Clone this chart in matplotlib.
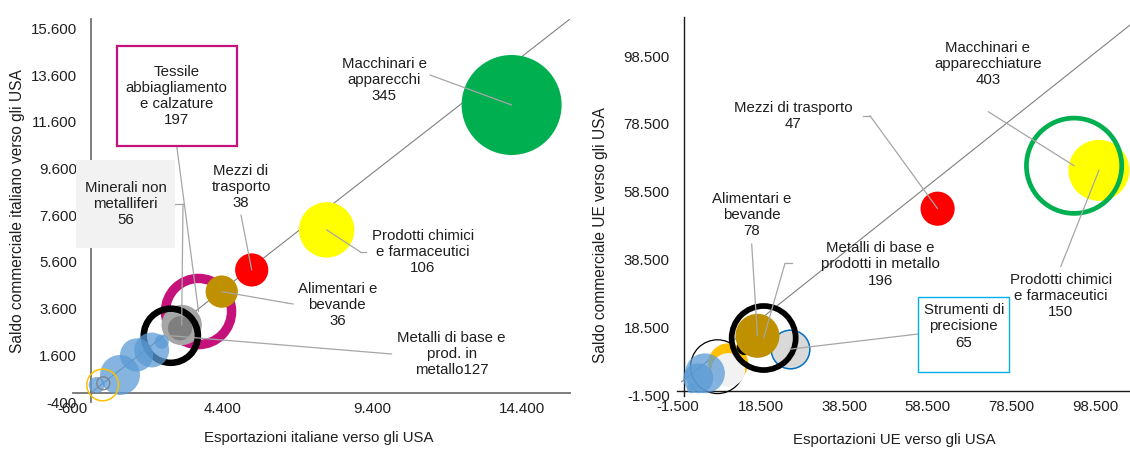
import numpy as np
import matplotlib
matplotlib.use("Agg")
from matplotlib import pyplot as plt
from matplotlib.patches import Rectangle
from matplotlib.ticker import FixedLocator, FuncFormatter

plt.rcParams['font.family'] = ['Liberation Sans', 'DejaVu Sans']

TEXT = '#1f1f1f'
LEADER = '#A6A6A6'
FONT = 10.8
R_MAX = 36.0   # raggio in pt della bolla più grande di ciascun grafico
BLU = (0.357, 0.608, 0.835, 0.75)

# ---------------- Italia verso gli USA ----------------
IT_SETTORI = ["Tessile, abbigliamento e calzature", "Alimentari e bevande",
              "Mezzi di trasporto", "Prodotti chimici e farmaceutici",
              "Macchinari e apparecchi", "Minerali non metalliferi", "Altri 1",
              "Metalli di base e prodotti in metallo", "Altri 2", "Altri 3",
              "Altri 4", "Altri 5", "Altri 6", "Altri 7", "Altri 8"]
IT_ETICHETTE = ["Tessile\nabbiagliamento\ne calzature\n", "Alimentari e\nbevande\n",
                "Mezzi di\ntrasporto\n", "Prodotti chimici\ne farmaceutici\n",
                "Macchinari e\napparecchi\n", "Minerali non\nmetalliferi\n", None,
                "Metalli di base e\nprod. in\nmetallo", None, None,
                None, None, None, None, None]
IT_EXPORT = [3592, 4367, 5369, 7873, 14050, 3030, 2974, 2667,
             2362, 2028, 1526, 970, 191, 391, 411]
IT_SALDO = [3475, 4326, 5255, 6968, 12318, 2898, 2757, 2437,
            2183, 1827, 1613, 757, 328, 330, 401]
IT_PESO = [197, 36, 38, 106, 345, 56, 20, 127, 7, 42, 38, 55, 9, 38, 7]
IT_X_TICKS = [-600, 4400, 9400, 14400]
IT_Y_TICKS = [-400, 1600, 3600, 5600, 7600, 9600, 11600, 13600, 15600]
IT_DIAG_X = [0, 16600]
IT_DIAG_Y = [0, 16600]

# stile bolle: (riempimento, bordo, spessore bordo pt)
IT_STILE = [('none', '#C5127A', 6.8), ('#BF9000', 'none', 0), ('#FF0000', 'none', 0),
            ('#FFFF00', 'none', 0), ('#00B050', 'none', 0), ('#A6A6A6', 'none', 0),
            ('#7F7F7F', 'none', 0), ('none', '#000000', 4.7),
            (BLU, 'none', 0), (BLU, 'none', 0), (BLU, 'none', 0), (BLU, 'none', 0),
            (BLU, 'none', 0), ('none', '#FFC000', 1.1), ('none', '#7F7F7F', 0.9)]

# ---------------- UE verso gli USA ----------------
UE_SETTORI = ["Altri 1", "Altri 2", "Altri 3", "Altri 4", "Altri 5", "Altri 6",
              "Altri 7", "Strumenti di precisione", "Alimentari e bevande",
              "Metalli di base e prodotti in metallo", "Mezzi di trasporto",
              "Prodotti chimici e farmaceutici", "Macchinari e apparecchiature"]
UE_ETICHETTE = [None, None, None, None, None, None, None,
                "Strumenti di\nprecisione\n", "Alimentari e\nbevande\n",
                "Metalli di base e\nprodotti in metallo\n", "Mezzi di trasporto\n",
                "Prodotti chimici\ne farmaceutici\n", "Macchinari e\napparecchiature\n"]
UE_EXPORT = [8120, 10700, 10700, 5120, 3520, 1940, 14510, 25470, 17690,
             19180, 60830, 99460, 93510]
UE_SALDO = [7040, 8040, 6065, 5090, 3620, 680, 12690, 12190, 16130,
            15480, 53550, 64850, 66200]
UE_PESO = [122, 64, 46, 64, 36, 4, 9, 65, 78, 196, 47, 150, 403]
UE_X_TICKS = [-1500, 18500, 38500, 58500, 78500, 98500]
UE_Y_TICKS = [-1500, 18500, 38500, 58500, 78500, 98500]
UE_DIAG_X = [-450, 108000]
UE_DIAG_Y = [2620, 108700]

UE_STILE = [('none', '#000000', 0.9), ('#FFC000', 'none', 0), ('#F2F2F2', 'none', 0),
            (BLU, 'none', 0), (BLU, 'none', 0), (BLU, 'none', 0),
            ('#000000', 'none', 0), ('#D9D9D9', '#0070C0', 1.1), ('#BF9000', 'none', 0),
            ('none', '#000000', 4.1), ('#FF0000', 'none', 0), ('#FFFF00', 'none', 0),
            ('none', '#00B050', 3.4)]

# posizione etichette (frazioni degli assi): testo, inizio linea guida, gomito, riquadro
IT_LAYOUT = {
    0: dict(text=(0.2087, 0.7990), start=(0.2087, 0.6684),
            box=(0.0879, 0.6684, 0.2414, 0.2619, 'white', '#C5127A', 1.6)),
    1: dict(text=(0.5318, 0.2533), start=(0.4427, 0.2559), elbow=(0.4306, 0.2585)),
    2: dict(text=(0.3380, 0.5614), start=(0.3380, 0.4883)),
    3: dict(text=(0.7036, 0.3916), start=(0.5895, 0.3924), elbow=(0.5775, 0.3924)),
    4: dict(text=(0.6258, 0.8407), start=(0.7183, 0.8538)),
    5: dict(text=(0.1056, 0.5170), start=(0.2052, 0.5170), elbow=(0.2213, 0.5170),
            box=(0.0060, 0.4021, 0.1992, 0.2298, '#F2F2F2', 'none', 0)),
    7: dict(text=(0.7620, 0.1253), start=(0.6412, 0.1253)),
}
UE_LAYOUT = {
    7: dict(text=(0.6329, 0.1829), start=(0.5324, 0.1631),
            box=(0.5324, 0.0618, 0.2010, 0.1998, 'white', '#00B0F0', 1.0)),
    8: dict(text=(0.1643, 0.4775), start=(0.1643, 0.4009)),
    9: dict(text=(0.4478, 0.3472), start=(0.2527, 0.3499), elbow=(0.2379, 0.3499)),
    10: dict(text=(0.2562, 0.7392), start=(0.4108, 0.7400), elbow=(0.4256, 0.7400)),
    11: dict(text=(0.8469, 0.2627), start=(0.8469, 0.3409)),
    12: dict(text=(0.6857, 0.8771), start=(0.6870, 0.7505)),
}


def thousands(v, pos=None):
    return f"{v:,.0f}".replace(",", ".")


def draw_chart(ax, xs, ys, pesi, stili, etichette, layout, xlim, ylim,
               xticks, yticks, diag_x, diag_y, spine_color, spine_lw):
    ax.set_xlim(*xlim)
    ax.set_ylim(*ylim)

    ax.plot(diag_x, diag_y, color='#808080', lw=0.8, zorder=1.5)

    vmax = max(pesi)
    for i, (x, y, p, (face, edge, lw)) in enumerate(zip(xs, ys, pesi, stili)):
        d = 2 * R_MAX * np.sqrt(p / vmax) - lw
        ax.scatter([x], [y], s=d ** 2, facecolors=face, edgecolors=edge,
                   linewidths=lw, zorder=2 + i * 0.01)

    for i, lay in layout.items():
        testo = etichette[i] + str(pesi[i])
        if 'box' in lay:
            bx, by, bw, bh, bface, bedge, blw = lay['box']
            ax.add_patch(Rectangle((bx, by), bw, bh, transform=ax.transAxes,
                                   facecolor=bface, edgecolor=bedge, lw=blw,
                                   zorder=11, clip_on=False))
        ax.text(*lay['text'], testo, transform=ax.transAxes, ha='center',
                va='center', fontsize=FONT, color=TEXT, linespacing=1.2, zorder=12)
        start = lay['start']
        if 'elbow' in lay:
            ax.plot([start[0], lay['elbow'][0]], [start[1], lay['elbow'][1]],
                    transform=ax.transAxes, color=LEADER, lw=0.9, zorder=10)
            start = lay['elbow']
        ax.annotate('', xy=(xs[i], ys[i]), xycoords='data', xytext=start,
                    textcoords='axes fraction', zorder=10,
                    arrowprops=dict(arrowstyle='-', color=LEADER, lw=0.9,
                                    shrinkA=0, shrinkB=0))

    for side in ('top', 'right'):
        ax.spines[side].set_visible(False)
    for side in ('left', 'bottom'):
        ax.spines[side].set_position(('data', 0))
        ax.spines[side].set_color(spine_color)
        ax.spines[side].set_linewidth(spine_lw)
        ax.spines[side].set_zorder(1)

    ax.xaxis.set_major_locator(FixedLocator(xticks))
    ax.yaxis.set_major_locator(FixedLocator(yticks))
    ax.xaxis.set_major_formatter(FuncFormatter(thousands))
    ax.yaxis.set_major_formatter(FuncFormatter(thousands))
    ax.tick_params(axis='both', length=0, labelsize=FONT, labelcolor=TEXT)
    ax.tick_params(axis='x', pad=7)
    ax.tick_params(axis='y', pad=10)
    ax.set_facecolor('none')


fig = plt.figure(figsize=(11.3, 4.5), dpi=100)

ax1 = fig.add_axes([73 / 1130, 48 / 450, 497 / 1130, 383 / 450])
draw_chart(ax1, IT_EXPORT, IT_SALDO, IT_PESO, IT_STILE, IT_ETICHETTE, IT_LAYOUT,
           (-600, 16000), (-400, 16000), IT_X_TICKS, IT_Y_TICKS,
           IT_DIAG_X, IT_DIAG_Y, '#737373', 1.3)

ax2 = fig.add_axes([677.3 / 1130, 54.3 / 450, 452.7 / 1130, 378.4 / 450])
draw_chart(ax2, UE_EXPORT, UE_SALDO, UE_PESO, UE_STILE, UE_ETICHETTE, UE_LAYOUT,
           (-1500, 106900), (-1500, 109900), UE_X_TICKS, UE_Y_TICKS,
           UE_DIAG_X, UE_DIAG_Y, '#1a1a1a', 1.0)

fig.text(319 / 1130, 1 - 438 / 450, "Esportazioni italiane verso gli USA",
         ha='center', va='center', fontsize=FONT, color=TEXT)
fig.text(18 / 1130, 1 - 211 / 450, "Saldo commerciale italiano verso gli USA",
         ha='center', va='center', rotation=90, fontsize=11.2, color=TEXT)
fig.text(894 / 1130, 1 - 440 / 450, "Esportazioni UE verso gli USA",
         ha='center', va='center', fontsize=FONT, color=TEXT)
fig.text(601 / 1130, 1 - 235 / 450, "Saldo commerciale UE verso gli USA",
         ha='center', va='center', rotation=90, fontsize=11.2, color=TEXT)

fig.savefig("out.png", dpi=100)
